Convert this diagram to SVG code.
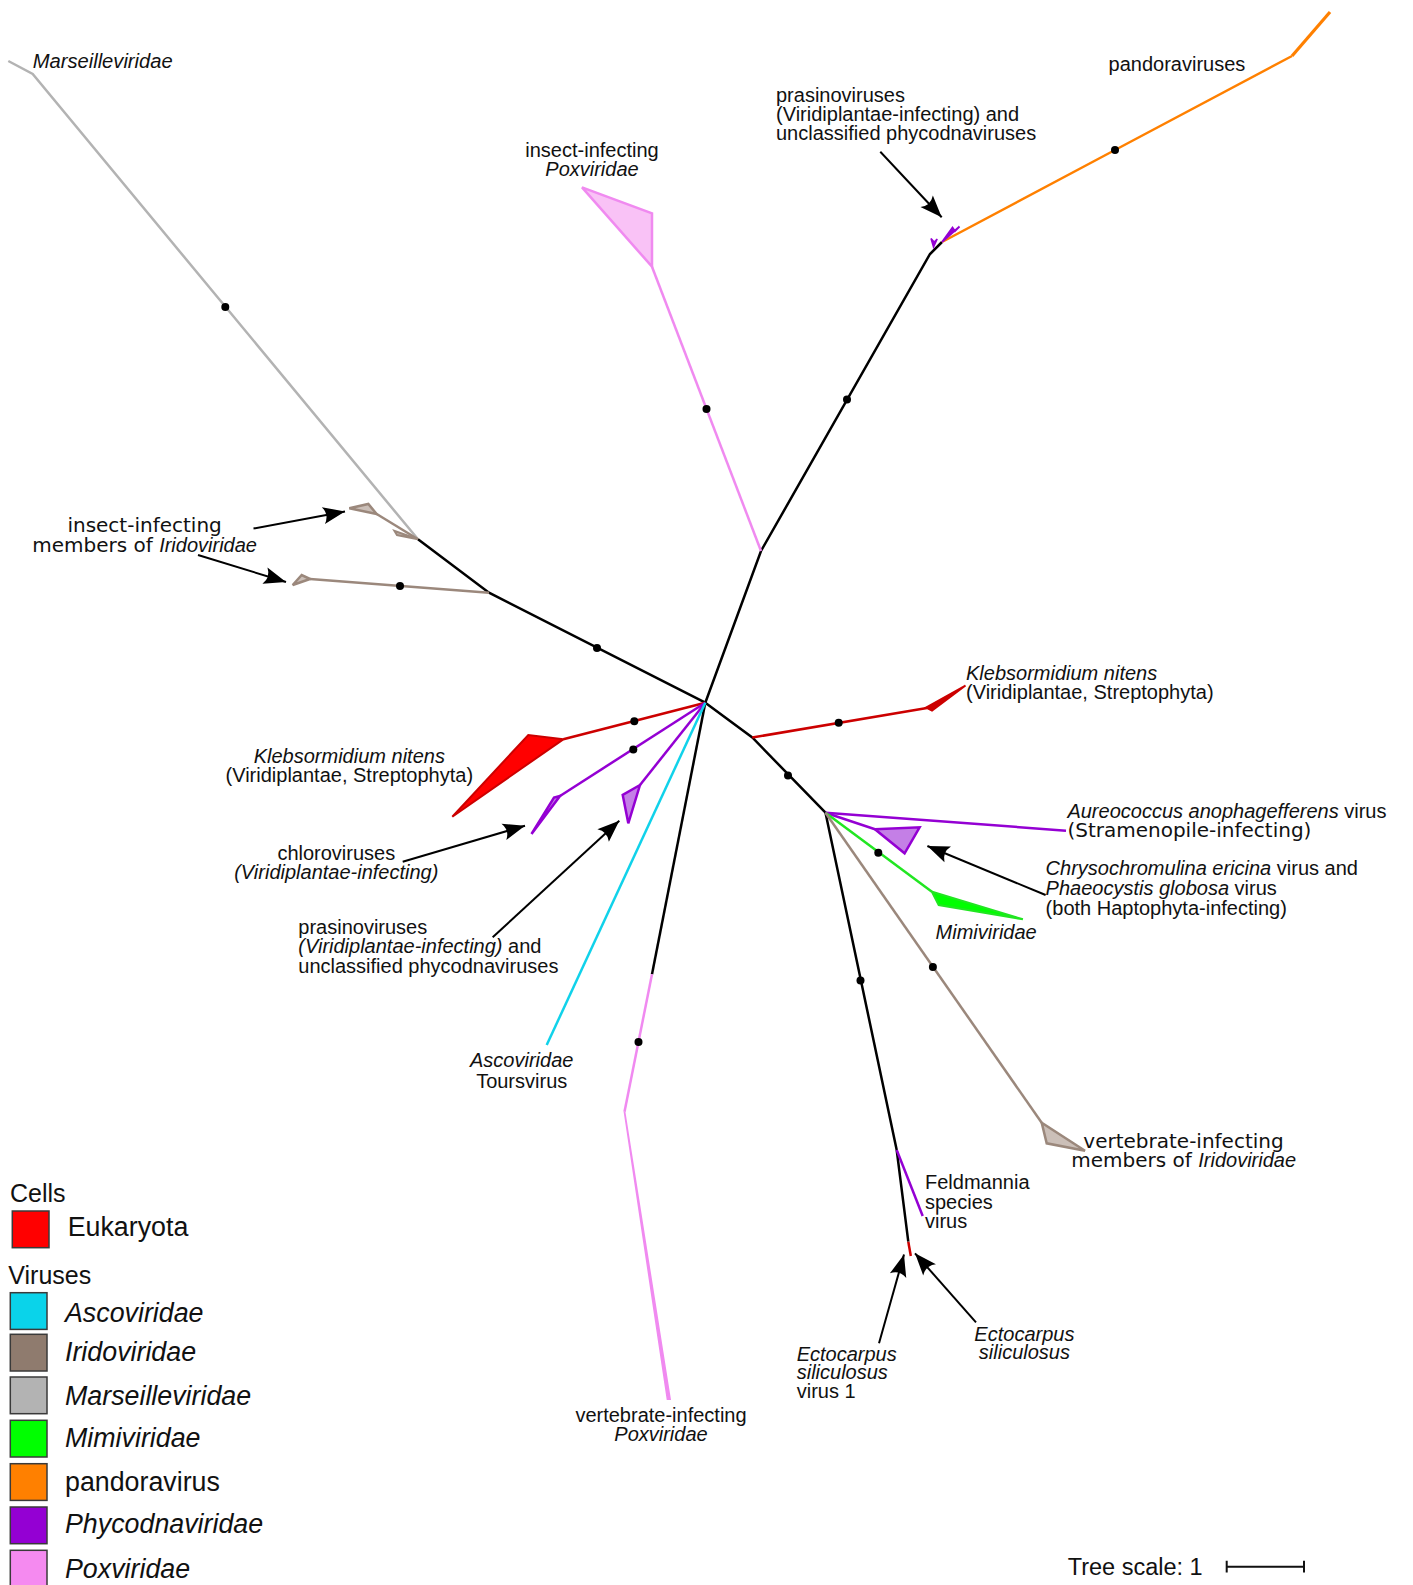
<svg xmlns="http://www.w3.org/2000/svg" width="1413" height="1585" viewBox="0 0 1413 1585">
<style>
text { font-family: "Liberation Sans", Arial, sans-serif; font-size: 20px; fill: #111; }
.d { font-family: "DejaVu Sans", sans-serif; }
.i { font-family: "Liberation Sans", Arial, sans-serif; font-style: italic; }
.lg { font-size: 26.8px; }
.lt { font-size: 25px; }
.br { fill: none; stroke-width: 2.5; stroke-linejoin: miter; }
.k { stroke: #000; }
.gy { stroke: #b3b3b3; }
.bn { stroke: #9b887c; }
.rd { stroke: #cc0000; }
.pu { stroke: #9400d3; }
.cy { stroke: #10d2ea; }
.gn { stroke: #22e622; }
.pk { stroke: #f08af0; }
.or { stroke: #ff8000; }
.dot { fill: #000; }
.ar { fill: none; stroke: #000; stroke-width: 2; marker-end: url(#ah); }
.box { stroke: #3a3a3a; stroke-width: 1.5; }
</style>
<defs>
<marker id="ah" markerUnits="userSpaceOnUse" viewBox="-24 -10 26 20" markerWidth="26" markerHeight="20" refX="0" refY="0" orient="auto">
<path d="M0,0 L-22,-8.5 Q-16,0 -22,8.5 Z" fill="#000"/>
</marker>
</defs>
<rect width="1413" height="1585" fill="#fff"/>

<g id="connectors">
<polyline class="br gy" points="8.3,61 32.7,74 418,539.3"/>
<polyline class="br k" points="418,539.3 489,592.7 705.3,702.7"/>
<polyline class="br k" points="705.3,702.7 761,551 930,254 942,242"/>
<polyline class="br k" points="705.3,702.7 652,974.3"/>
<polyline class="br k" points="705.3,702.7 752.3,737.5 825.5,812.7"/>
<polyline class="br k" points="825.5,812.7 896.7,1150 908.3,1241.7"/>
<polyline class="br bn" points="418,539.3 376.7,514"/>
<polyline class="br bn" points="489,592.7 310,579"/>
<polyline class="br rd" points="705.3,702.7 563.3,739.3"/>
<polyline class="br pu" points="705.3,702.7 560,796"/>
<polyline class="br pu" points="705.3,702.7 640,785"/>
<polyline class="br cy" points="705.3,702.7 546.7,1045"/>
<polyline class="br pk" points="652,974.3 624.5,1111.7"/>
<polyline class="br pk" points="761,551 652,266.7"/>
<polyline class="br or" points="942,242 1115,150 1292,56"/>
<polyline class="br or" style="stroke-width:3.2" points="1292,56 1330,12"/>
<polyline class="br rd" points="752.3,737.5 927,708"/>
<polyline class="br pu" points="825.5,812.7 1066,830.7"/>
<polyline class="br pu" points="825.5,812.7 875,829.3"/>
<polyline class="br gn" points="825.5,812.7 931.9,891.7"/>
<polyline class="br bn" points="825.5,812.7 1041.7,1122.7"/>
<polyline class="br rd" points="908.3,1241.7 910.8,1256"/>
<polyline class="br pu" points="896.7,1150 922.7,1216"/>

<circle class="dot" cx="225.3" cy="307" r="4"/>
<circle class="dot" cx="597" cy="648" r="4"/>
<circle class="dot" cx="400" cy="586" r="4"/>
<circle class="dot" cx="634.3" cy="721.3" r="4"/>
<circle class="dot" cx="633.3" cy="749.5" r="4"/>
<circle class="dot" cx="638.5" cy="1042" r="4"/>
<circle class="dot" cx="706.5" cy="409" r="4"/>
<circle class="dot" cx="847" cy="399.5" r="4"/>
<circle class="dot" cx="1115" cy="150" r="4"/>
<circle class="dot" cx="788" cy="775.5" r="4"/>
<circle class="dot" cx="838.7" cy="722.7" r="4"/>
<circle class="dot" cx="878.3" cy="852.7" r="4"/>
<circle class="dot" cx="932.9" cy="967" r="4"/>
<circle class="dot" cx="860.5" cy="980.5" r="4"/>

<line class="ar" x1="880.3" y1="151.7" x2="941.7" y2="217.3"/>
<line class="ar" x1="253.5" y1="528.5" x2="345" y2="511.5"/>
<line class="ar" x1="198" y1="555" x2="286" y2="582"/>
<line class="ar" x1="402.7" y1="861.7" x2="525" y2="825.7"/>
<line class="ar" x1="492.7" y1="937.3" x2="619.3" y2="820.7"/>
<line class="ar" x1="1045.6" y1="895" x2="927.4" y2="846"/>
<line class="ar" x1="879" y1="1343.3" x2="904" y2="1254.5"/>
<line class="ar" x1="976" y1="1322.3" x2="915" y2="1253.3"/>
</g>

<g id="clades">
<polygon id="clade-irido-insect-1" points="376.7,514 368.3,504 349.3,508.3" fill="#cbbfb8" stroke="#9b887c" stroke-width="2.5"/>
<polygon id="clade-irido-insect-2" points="418,539.3 394.5,531 397,535" fill="#cbbfb8" stroke="#9b887c" stroke-width="2"/>
<polygon id="clade-irido-insect-3" points="310,579 301.7,575 292.7,585" fill="#cbbfb8" stroke="#9b887c" stroke-width="2.5"/>
<polygon id="clade-kleb-left" points="563.3,739.3 528.3,735 452.3,816.7" fill="#ff0000" stroke="#cc0000" stroke-width="2"/>
<polygon id="clade-chloro" points="560,796 554,797.5 531.5,834" fill="#c47fe6" stroke="#9400d3" stroke-width="2.5"/>
<polygon id="clade-prasino-low" points="640,785 622.7,795 628.3,823.3" fill="#c47fe6" stroke="#9400d3" stroke-width="2.5"/>
<polygon id="clade-pox-vert" points="624.5,1111.7 670,1399 667.5,1399" fill="#f08af0" stroke="#f08af0" stroke-width="1.8"/>
<polygon id="clade-pox-insect" points="652,266.7 652,213.3 582,187.3" fill="#f9c2f6" stroke="#f08af0" stroke-width="2.5"/>
<polygon id="clade-prasino-top-1" points="933.5,247 931,238.5 934.2,242 937.2,239" fill="#9400d3" stroke="#9400d3" stroke-width="1.5"/>
<polygon id="clade-prasino-top-2" points="942,242 952.5,227.5 955,231 959.5,226.5" fill="#9400d3" stroke="#9400d3" stroke-width="1.8"/>
<polygon id="clade-kleb-right" points="926,707.5 965.5,685.5 932,710.5" fill="#cc0000" stroke="#cc0000" stroke-width="2"/>
<polygon id="clade-hapto" points="875,829.3 919.6,827.3 904.6,853.3" fill="#c47fe6" stroke="#9400d3" stroke-width="2.5"/>
<polygon id="clade-mimi" points="931.9,891.7 938.7,905 1022.9,919.3" fill="#00ff00" stroke="#22e622" stroke-width="2"/>
<polygon id="clade-irido-vert" points="1041.7,1122.7 1046.7,1143.3 1085,1150.7" fill="#cbbfb8" stroke="#9b887c" stroke-width="2.5"/>
</g>

<g id="labels">
<g id="lab-marseille"><text class="i" x="32.7" y="68" textLength="140" lengthAdjust="spacingAndGlyphs">Marseilleviridae</text></g>
<g id="lab-pandora"><text x="1108.6" y="71">pandoraviruses</text></g>
<g id="lab-prasino-top">
<text x="776" y="102">prasinoviruses<tspan x="776" dy="19">(Viridiplantae-infecting) and</tspan><tspan x="776" dy="19">unclassified phycodnaviruses</tspan></text>
</g>
<g id="lab-pox-insect">
<text x="592" y="156.5" text-anchor="middle">insect-infecting<tspan class="i" x="592" dy="19.5">Poxviridae</tspan></text>
</g>
<g id="lab-irido-insect">
<text x="144.6" y="531.5" text-anchor="middle"><tspan class="d">insect-infecting</tspan><tspan class="d" x="144.6" dy="20">members of </tspan><tspan class="i">Iridoviridae</tspan></text>
</g>
<g id="lab-kleb-left">
<text x="349.3" y="762.7" text-anchor="middle"><tspan class="i">Klebsormidium nitens</tspan><tspan x="349.3" dy="18.8">(Viridiplantae, Streptophyta)</tspan></text>
</g>
<g id="lab-chloro">
<text x="336.3" y="860" text-anchor="middle">chloroviruses<tspan class="i" x="336.3" dy="19.3">(Viridiplantae-infecting)</tspan></text>
</g>
<g id="lab-prasino-low">
<text x="298.3" y="933.5">prasinoviruses<tspan x="298.3" dy="19.5"><tspan class="i">(Viridiplantae-infecting)</tspan> and</tspan><tspan x="298.3" dy="19.5">unclassified phycodnaviruses</tspan></text>
</g>
<g id="lab-asco">
<text x="521.7" y="1066.7" text-anchor="middle"><tspan class="i">Ascoviridae</tspan><tspan x="521.7" dy="21.6">Toursvirus</tspan></text>
</g>
<g id="lab-pox-vert">
<text x="661" y="1421.7" text-anchor="middle">vertebrate-infecting<tspan class="i" x="661" dy="19.6">Poxviridae</tspan></text>
</g>
<g id="lab-kleb-right">
<text x="966" y="680"><tspan class="i">Klebsormidium nitens</tspan><tspan x="966" dy="19">(Viridiplantae, Streptophyta)</tspan></text>
</g>
<g id="lab-aureo">
<text x="1067.4" y="818.3"><tspan class="i">Aureococcus anophagefferens</tspan> virus<tspan class="d" x="1067.4" dy="18.7">(Stramenopile-infecting)</tspan></text>
</g>
<g id="lab-hapto">
<text x="1045.6" y="875"><tspan class="i">Chrysochromulina ericina</tspan> virus and<tspan x="1045.6" dy="20"><tspan class="i">Phaeocystis globosa</tspan> virus</tspan><tspan x="1045.6" dy="19.5">(both Haptophyta-infecting)</tspan></text>
</g>
<g id="lab-mimi"><text class="i" x="935.6" y="939.3">Mimiviridae</text></g>
<g id="lab-irido-vert">
<text x="1183.5" y="1148" text-anchor="middle"><tspan class="d">vertebrate-infecting</tspan><tspan class="d" x="1183.7" dy="19">members of </tspan><tspan class="i">Iridoviridae</tspan></text>
</g>
<g id="lab-feld">
<text x="925" y="1189">Feldmannia<tspan x="925" dy="19.5">species</tspan><tspan x="925" dy="19.5">virus</tspan></text>
</g>
<g id="lab-esv1">
<text x="796.7" y="1360.7"><tspan class="i">Ectocarpus</tspan><tspan class="i" x="796.7" dy="18.6">siliculosus</tspan><tspan x="796.7" dy="19">virus 1</tspan></text>
</g>
<g id="lab-es">
<text class="i" x="1024.4" y="1340.7" text-anchor="middle">Ectocarpus<tspan x="1024.4" dy="18.6">siliculosus</tspan></text>
</g>
</g>

<g id="legend">
<text class="lt" x="10" y="1201.7">Cells</text>
<rect class="box" x="12.3" y="1211" width="36.7" height="36.7" fill="#ff0000"/>
<text class="lg" x="67.7" y="1236">Eukaryota</text>
<text class="lt" x="8.3" y="1284.3">Viruses</text>
<rect class="box" x="10.3" y="1292.7" width="36.7" height="36.7" fill="#0ad3ea"/>
<text class="lg i" x="65" y="1321.7">Ascoviridae</text>
<rect class="box" x="10.3" y="1334.3" width="36.7" height="36.7" fill="#8f7b6e"/>
<text class="lg i" x="65" y="1361">Iridoviridae</text>
<rect class="box" x="10.3" y="1377" width="36.7" height="36.7" fill="#b3b3b3"/>
<text class="lg i" x="65" y="1405">Marseilleviridae</text>
<rect class="box" x="10.3" y="1420.3" width="36.7" height="36.7" fill="#00ff00"/>
<text class="lg i" x="65" y="1447.3">Mimiviridae</text>
<rect class="box" x="10.3" y="1463.7" width="36.7" height="36.7" fill="#ff8000"/>
<text class="lg" x="65" y="1490.7">pandoravirus</text>
<rect class="box" x="10.3" y="1507" width="36.7" height="36.7" fill="#9400d3"/>
<text class="lg i" x="65" y="1532.5">Phycodnaviridae</text>
<rect class="box" x="10.3" y="1550.3" width="36.7" height="36.7" fill="#f58af0"/>
<text class="lg i" x="65" y="1577.7">Poxviridae</text>
</g>

<g id="scale">
<text x="1067.7" y="1575" style="font-size:23.5px">Tree scale: 1</text>
<path d="M1226.7,1566.7 H1304 M1226.7,1560.7 V1572.5 M1304,1560.7 V1572.5" fill="none" stroke="#111" stroke-width="2"/>
</g>
</svg>
